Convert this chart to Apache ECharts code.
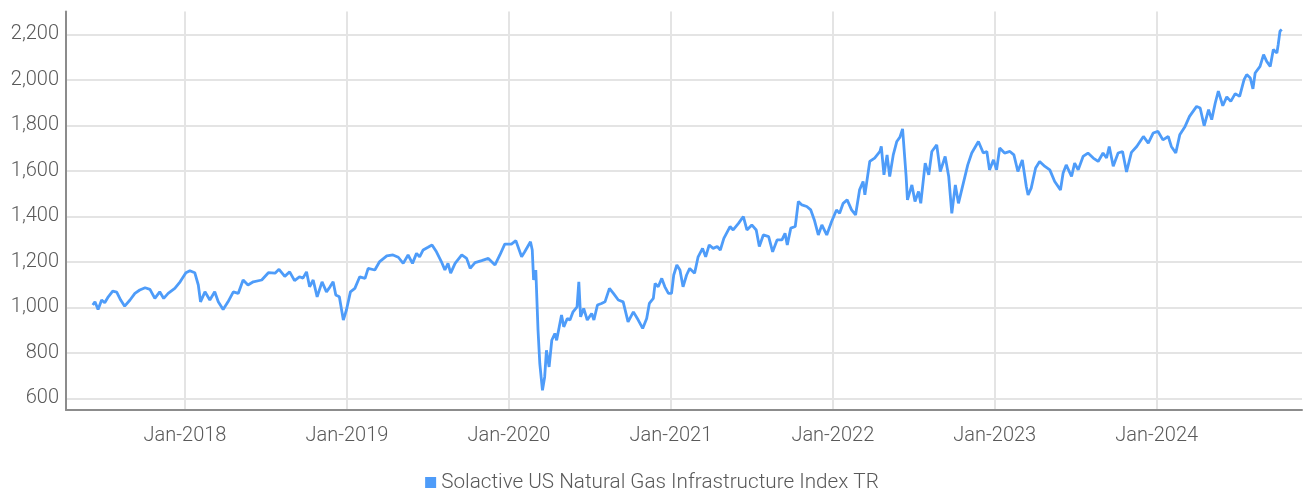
<!DOCTYPE html>
<html>
<head>
<meta charset="utf-8">
<script src="https://cdn.jsdelivr.net/npm/echarts@6/dist/echarts.min.js"></script>
<style>
html,body{margin:0;padding:0;background:#fff;}
#chart{width:1304px;height:493px;}
</style>
</head>
<body>
<div id="chart"></div>
<script>
const seriesName = 'Solactive US Natural Gas Infrastructure Index TR';
const yTicks = [600, 800, 1000, 1200, 1400, 1600, 1800, 2000, 2200];
const xTickYears = [2018, 2019, 2020, 2021, 2022, 2023, 2024];
const dates = [
'2017-06-07','2017-06-12','2017-06-19','2017-06-27','2017-07-04','2017-07-12','2017-07-22','2017-07-31','2017-08-09','2017-08-18',
'2017-08-30','2017-09-10','2017-09-21','2017-10-03','2017-10-14','2017-10-25','2017-11-05','2017-11-14','2017-11-24','2017-12-09',
'2017-12-21','2018-01-03','2018-01-12','2018-01-23','2018-01-31','2018-02-05','2018-02-15','2018-02-26','2018-03-09','2018-03-17',
'2018-03-28','2018-04-08','2018-04-20','2018-05-01','2018-05-12','2018-05-23','2018-06-04','2018-06-23','2018-07-08','2018-07-23',
'2018-08-01','2018-08-14','2018-08-25','2018-09-05','2018-09-16','2018-09-24','2018-10-02','2018-10-09','2018-10-17','2018-10-26',
'2018-11-06','2018-11-16','2018-11-24','2018-12-01','2018-12-07','2018-12-15','2018-12-24','2018-12-31','2019-01-09','2019-01-19',
'2019-01-30','2019-02-11','2019-02-18','2019-03-05','2019-03-16','2019-04-01','2019-04-15','2019-04-27','2019-05-08','2019-05-19',
'2019-05-29','2019-06-07','2019-06-14','2019-06-22','2019-07-03','2019-07-12','2019-07-22','2019-08-02','2019-08-10','2019-08-17',
'2019-08-23','2019-09-02','2019-09-17','2019-09-28','2019-10-06','2019-10-17','2019-11-01','2019-11-16','2019-12-01','2019-12-12',
'2019-12-23','2020-01-07','2020-01-17','2020-01-30','2020-02-06','2020-02-19','2020-02-23','2020-02-26','2020-03-02','2020-03-07',
'2020-03-11','2020-03-17','2020-03-22','2020-03-26','2020-04-01','2020-04-07','2020-04-14','2020-04-18','2020-04-29','2020-05-04',
'2020-05-12','2020-05-18','2020-05-25','2020-06-03','2020-06-07','2020-06-11','2020-06-18','2020-06-26','2020-07-06','2020-07-11',
'2020-07-19','2020-07-28','2020-08-05','2020-08-15','2020-08-24','2020-09-04','2020-09-15','2020-09-26','2020-10-08','2020-10-19',
'2020-10-29','2020-11-07','2020-11-13','2020-11-22','2020-11-26','2020-12-03','2020-12-11','2020-12-18','2020-12-26','2021-01-02',
'2021-01-07','2021-01-14','2021-01-21','2021-01-28','2021-02-05','2021-02-12','2021-02-23','2021-03-03','2021-03-13','2021-03-20',
'2021-03-28','2021-04-06','2021-04-15','2021-04-22','2021-04-30','2021-05-14','2021-05-21','2021-06-02','2021-06-13','2021-06-21',
'2021-07-02','2021-07-12','2021-07-19','2021-07-28','2021-08-09','2021-08-18','2021-08-28','2021-09-08','2021-09-15','2021-09-20',
'2021-09-28','2021-10-08','2021-10-15','2021-10-23','2021-11-03','2021-11-12','2021-11-20','2021-11-29','2021-12-07','2021-12-18',
'2021-12-29','2022-01-09','2022-01-16','2022-01-24','2022-02-02','2022-02-12','2022-02-21','2022-03-02','2022-03-10','2022-03-14',
'2022-03-25','2022-04-05','2022-04-17','2022-04-20','2022-04-26','2022-05-03','2022-05-09','2022-05-17','2022-05-21','2022-05-25',
'2022-06-01','2022-06-07','2022-06-15','2022-06-18','2022-06-28','2022-07-05','2022-07-13','2022-07-18','2022-07-28','2022-08-05',
'2022-08-12','2022-08-23','2022-08-31','2022-09-11','2022-09-19','2022-09-26','2022-10-04','2022-10-11','2022-10-22','2022-11-01',
'2022-11-10','2022-11-25','2022-12-06','2022-12-14','2022-12-20','2022-12-29','2023-01-05','2023-01-12','2023-01-23','2023-02-04',
'2023-02-13','2023-02-22','2023-03-04','2023-03-13','2023-03-17','2023-03-24','2023-04-03','2023-04-12','2023-04-24','2023-05-05',
'2023-05-16','2023-05-29','2023-06-04','2023-06-11','2023-06-23','2023-06-30','2023-07-08','2023-07-19','2023-07-30','2023-08-11',
'2023-08-22','2023-09-02','2023-09-10','2023-09-16','2023-09-25','2023-10-06','2023-10-16','2023-10-25','2023-11-05','2023-11-17',
'2023-12-02','2023-12-13','2023-12-24','2024-01-04','2024-01-15','2024-01-27','2024-02-03','2024-02-13','2024-02-22','2024-03-05',
'2024-03-15','2024-03-31','2024-04-08','2024-04-17','2024-04-27','2024-05-04','2024-05-12','2024-05-19','2024-05-29','2024-06-07',
'2024-06-16','2024-06-26','2024-07-06','2024-07-16','2024-07-22','2024-07-30','2024-08-05','2024-08-10','2024-08-21','2024-08-29',
'2024-09-05','2024-09-13','2024-09-20','2024-09-28','2024-10-01','2024-10-05','2024-10-09'
];
const values = [
1010,1024,990,1032,1020,1046,1071,1067,1032,1005,
1032,1061,1076,1086,1079,1039,1068,1039,1061,1083,
1112,1152,1161,1152,1098,1024,1068,1032,1068,1024,
990,1024,1068,1061,1120,1098,1112,1120,1152,1150,
1167,1136,1156,1117,1134,1128,1156,1090,1120,1046,
1112,1068,1090,1112,1054,1046,944,988,1068,1083,
1134,1127,1171,1164,1201,1226,1230,1220,1193,1230,
1193,1237,1222,1252,1264,1274,1244,1201,1164,1193,
1150,1193,1230,1215,1171,1196,1205,1215,1186,1230,
1278,1278,1293,1222,1244,1288,1252,1120,1164,900,
753,635,694,811,738,855,885,855,966,914,
951,944,980,1002,1112,958,995,944,973,944,
1010,1017,1024,1083,1061,1032,1024,936,980,944,
907,951,1017,1039,1105,1090,1127,1090,1061,1061,
1142,1186,1164,1090,1142,1171,1150,1222,1259,1222,
1274,1259,1267,1252,1303,1355,1340,1369,1399,1340,
1362,1340,1267,1318,1311,1244,1296,1296,1325,1274,
1348,1355,1465,1450,1443,1428,1384,1318,1362,1318,
1377,1428,1413,1457,1472,1428,1406,1516,1553,1494,
1641,1656,1685,1707,1582,1670,1575,1670,1663,1729,
1748,1784,1575,1472,1538,1465,1509,1457,1634,1582,
1685,1714,1597,1663,1575,1413,1538,1457,1546,1626,
1678,1729,1678,1685,1604,1648,1604,1700,1678,1685,
1670,1597,1648,1531,1494,1524,1612,1641,1619,1604,
1553,1516,1590,1626,1575,1634,1604,1663,1678,1656,
1641,1678,1656,1707,1620,1678,1685,1595,1681,1707,
1751,1722,1766,1773,1736,1751,1707,1678,1758,1795,
1839,1883,1876,1798,1869,1825,1898,1950,1886,1925,
1905,1939,1927,2001,2023,2008,1960,2030,2059,2111,
2081,2059,2133,2118,2155,2214,2221
];

function toMs(s){const p=s.split('-');return Date.UTC(+p[0],+p[1]-1,+p[2]);}
const xMin = Date.UTC(xTickYears[0],0,1);
const xMax = Date.UTC(xTickYears[xTickYears.length-1],0,1);
const seriesData = dates.map((d,i)=>[toMs(d), values[i]]);

// layout (pixels)
const frame = {left:66, right:1302, top:11.5, bottom:410};
const tickL = 185, tickR = 1156.7;
const msPerPx = (xMax - xMin) / (tickR - tickL);
const frameXMin = xMin - (tickL - frame.left) * msPerPx;
const frameXMax = xMax + (frame.right - tickR) * msPerPx;
const yTop = 34.3, yBot = 398.3;
const valPerPx = (yTicks[yTicks.length-1] - yTicks[0]) / (yBot - yTop);
const frameYMin = yTicks[0] - (frame.bottom - yBot) * valPerPx;
const frameYMax = yTicks[yTicks.length-1] + (yTop - frame.top) * valPerPx;

const labelColor = '#595959';
const gridColor = '#e4e4e4';
const axisColor = '#8c8c8c';
const lineColor = '#4e9cf9';
const font = 'Roboto';

const chart = echarts.init(document.getElementById('chart'), null, {renderer:'canvas'});
chart.setOption({
  animation:false,
  backgroundColor:'#ffffff',
  grid:[
    {left:frame.left, right:1304-frame.right, top:frame.top, bottom:493-frame.bottom},   // frame + series
    {left:tickL, right:1304-tickR, top:frame.top, bottom:493-frame.bottom},              // x ticks
    {left:frame.left, right:1304-frame.right, top:yTop, bottom:493-yBot}                 // y ticks
  ],
  xAxis:[
    {gridIndex:0, type:'value', min:frameXMin, max:frameXMax, axisLine:{show:true,lineStyle:{color:axisColor,width:2}}, axisTick:{show:false}, axisLabel:{show:false}, splitLine:{show:false}, z:3},
    {gridIndex:1, type:'value', min:xMin, max:xMax, interval:(xMax-xMin)/(xTickYears.length-1),
     axisLine:{show:false}, axisTick:{show:false},
     axisLabel:{show:true, margin:16, color:labelColor, fontFamily:font, fontWeight:300, fontSize:20,
       formatter:function(v){const d=new Date(v+15*86400000);return 'Jan-'+d.getUTCFullYear();}},
     splitLine:{show:true, lineStyle:{color:gridColor,width:2}}},
    {gridIndex:2, type:'value', min:0, max:1, show:false}
  ],
  yAxis:[
    {gridIndex:0, type:'value', min:frameYMin, max:frameYMax, axisLine:{show:true,lineStyle:{color:axisColor,width:2}}, axisTick:{show:false}, axisLabel:{show:false}, splitLine:{show:false}, z:3},
    {gridIndex:1, type:'value', min:0, max:1, show:false},
    {gridIndex:2, type:'value', min:yTicks[0], max:yTicks[yTicks.length-1], interval:yTicks[1]-yTicks[0],
     axisLine:{show:false}, axisTick:{show:false},
     axisLabel:{show:true, margin:7, color:labelColor, fontFamily:font, fontWeight:300, fontSize:20,
       formatter:function(v){return v.toLocaleString('en-US');}},
     splitLine:{show:true, lineStyle:{color:gridColor,width:2}}}
  ],
  legend:{
    show:true, top:467, left:'center', icon:'rect', itemWidth:11, itemHeight:11, itemGap:6,
    textStyle:{color:labelColor, fontFamily:font, fontWeight:300, fontSize:20.7},
    data:[seriesName]
  },
  series:[{
    name:seriesName, type:'line', xAxisIndex:0, yAxisIndex:0,
    showSymbol:false, symbol:'none', smooth:false,
    lineStyle:{color:lineColor, width:2.8}, itemStyle:{color:lineColor},
    data:seriesData, z:5
  }]
});
</script>
</body>
</html>
